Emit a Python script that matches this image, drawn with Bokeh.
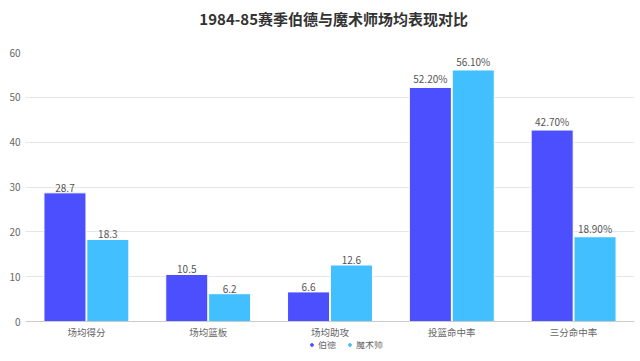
from bokeh.plotting import figure
from bokeh.layouts import column
from bokeh.models import ColumnDataSource, FactorRange, Range1d, FixedTicker, Legend, LegendItem
from bokeh.transform import dodge
from bokeh.core.properties import value
from bokeh.embed import file_html
from bokeh.resources import INLINE

title_text = "1984-85赛季伯德与魔术师场均表现对比"
categories = ["场均得分", "场均篮板", "场均助攻", "投篮命中率", "三分命中率"]
bird = [28.7, 10.5, 6.6, 52.2, 42.7]
magic = [18.3, 6.2, 12.6, 56.1, 18.9]
bird_labels = ["28.7", "10.5", "6.6", "52.20%", "42.70%"]
magic_labels = ["18.3", "6.2", "12.6", "56.10%", "18.90%"]
series_names = ["伯德", "魔术师"]
y_ticks = [0, 10, 20, 30, 40, 50, 60]

FONT = "Noto Sans CJK SC"
C1 = "#4B4FFD"
C2 = "#41BFFE"

def strip(h):
    f = figure(width=636, height=h, output_backend="svg", toolbar_location=None,
               min_border=0, x_range=Range1d(0, 1), y_range=Range1d(0, 1),
               x_axis_type=None, y_axis_type=None)
    f.outline_line_color = None
    f.grid.visible = False
    return f

# title strip
tf = strip(30)
tf.text(x=[0.506], y=[0.4], text=[title_text], text_align="center", text_baseline="middle",
        text_font=value(FONT), text_font_size="15px", text_font_style="bold",
        text_color="#333333")

src = ColumnDataSource(dict(cat=categories, bird=bird, magic=magic,
                            bl=bird_labels, ml=magic_labels))

p = figure(x_range=FactorRange(*categories, range_padding=0), y_range=Range1d(0, 60),
           width=636, height=311, output_backend="svg", toolbar_location=None,
           min_border_left=25, min_border_right=2, min_border_top=22, min_border_bottom=18)
p.outline_line_color = None
p.background_fill_color = "white"

r1 = p.vbar(x=dodge("cat", -0.176, range=p.x_range), top="bird", width=0.345, source=src,
            fill_color=C1, line_color="white", line_width=1)
r2 = p.vbar(x=dodge("cat", 0.176, range=p.x_range), top="magic", width=0.345, source=src,
            fill_color=C2, line_color="white", line_width=1)

for col, off in (("bl", -0.176), ("ml", 0.176)):
    ycol = "bird" if col == "bl" else "magic"
    p.text(x=dodge("cat", off, range=p.x_range), y=ycol, text=col, source=src,
           text_align="center", text_baseline="bottom", y_offset=-1,
           text_font_size="10px", text_color="#555555", text_font=value(FONT))

p.yaxis.ticker = FixedTicker(ticks=y_ticks)
p.yaxis.axis_line_color = None
p.yaxis.major_tick_line_color = None
p.yaxis.minor_tick_line_color = None
p.yaxis.major_tick_out = 0
p.yaxis.major_tick_in = 0
p.yaxis.major_label_standoff = 5
p.yaxis.major_label_text_font = FONT
p.yaxis.major_label_text_font_size = "10px"
p.yaxis.major_label_text_color = "#666666"

p.xaxis.axis_line_color = "#CCCCCC"
p.xaxis.major_tick_line_color = None
p.xaxis.minor_tick_line_color = None
p.xaxis.major_tick_out = 0
p.xaxis.major_tick_in = 0
p.xaxis.major_label_standoff = 3
p.xaxis.major_label_text_font = FONT
p.xaxis.major_label_text_font_size = "9.5px"
p.xaxis.major_label_text_color = "#666666"

p.xgrid.grid_line_color = None
p.ygrid.grid_line_color = "#E6E6E6"

# legend strip below the chart (marker placeholders sit outside the visible range)
lf = strip(14)
lg1 = lf.scatter(x=[-5], y=[-5], marker="circle", size=7, fill_color=C1, line_color=C1)
lg2 = lf.scatter(x=[-5], y=[-5], marker="circle", size=7, fill_color=C2, line_color=C2)
legend = Legend(items=[LegendItem(label=series_names[0], renderers=[lg1]),
                       LegendItem(label=series_names[1], renderers=[lg2])],
                orientation="horizontal", location=(283, 4),
                label_text_font=FONT, label_text_font_size="9px", label_text_color="#666666",
                glyph_width=7, glyph_height=7, label_standoff=3, spacing=8,
                label_height=10, padding=0, margin=0, border_line_color=None,
                background_fill_alpha=0)
lf.add_layout(legend)

layout = column(tf, p, lf, spacing=0)
open("out.html", "w").write(file_html(layout, INLINE))
